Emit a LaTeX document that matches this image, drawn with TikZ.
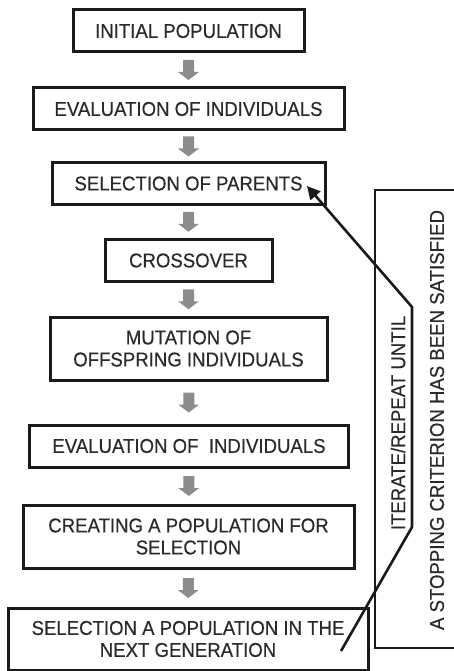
\documentclass[tikz,border=0pt]{standalone}
\usepackage{fontspec}
\setmainfont{Liberation Sans}[FakeStretch=0.93,FakeBold=0.4]
\usetikzlibrary{arrows.meta,calc}
\definecolor{txt}{HTML}{2A2A2A}
\definecolor{edge}{HTML}{1A1A1A}
\definecolor{fat}{HTML}{8C8C8C}
\begin{document}
\begin{tikzpicture}[x=1pt,y=-1pt,
  stepbox/.style={draw=edge,line width=3pt,rectangle,inner sep=0pt,text=txt,
    align=center,font=\fontsize{20}{22}\selectfont},
  loopline/.style={draw=edge,line width=2.6pt,-{Triangle[width=13pt,length=13pt]}},
  sidetext/.style={rotate=90,text=txt,font=\fontsize{20}{22}\selectfont,inner sep=0pt}]
\useasboundingbox (0,0) rectangle (454,671);
\path[clip] (0,0) rectangle (454,671);

\node[stepbox,minimum width=231pt,minimum height=42pt] (b1) at (188.5,31) {INITIAL POPULATION};
\node[stepbox,minimum width=311pt,minimum height=42pt] (b2) at (188.5,109) {EVALUATION OF INDIVIDUALS};
\node[stepbox,minimum width=273pt,minimum height=41pt] (b3) at (188.5,183.5) {SELECTION OF PARENTS};
\node[stepbox,minimum width=167pt,minimum height=42pt] (b4) at (188.5,260.5) {CROSSOVER};
\node[stepbox,minimum width=277pt,minimum height=63pt] (b5) at (188.5,348.5) {MUTATION OF\\OFFSPRING INDIVIDUALS};
\node[stepbox,minimum width=319pt,minimum height=42pt] (b6) at (189,446) {EVALUATION OF\ \ INDIVIDUALS};
\node[stepbox,minimum width=331pt,minimum height=63pt] (b7) at (188.5,536.5) {CREATING A POPULATION FOR\\SELECTION};
\node[stepbox,minimum width=360pt,minimum height=62pt] (b8) at (188,639) {SELECTION A POPULATION IN THE\\NEXT GENERATION};

% gray fat arrows
\foreach \a/\b in {b1/b2,b2/b3,b3/b4,b4/b5,b5/b6,b6/b7,b7/b8}{
  \coordinate (m) at ($(\a.south)!0.5!(\b.north)$);
  \fill[fat] ($(m)+(-5.5,-10)$) -- ($(m)+(5.5,-10)$) -- ($(m)+(5.5,2)$) -- ($(m)+(10.5,2)$)
     -- ($(m)+(0,10)$) -- ($(m)+(-10.5,2)$) -- ($(m)+(-5.5,2)$) -- cycle;
}

% right frame
\coordinate (frtl) at (375,190);
\coordinate (frbl) at (375,648);
\draw[edge,line width=2.4pt] (470,190) -- (frtl) -- (frbl) -- (470,648);
\node[sidetext] (t1) at (398,423) {ITERATE/REPEAT UNTIL};
\node[sidetext] (t2) at (437,420) {A STOPPING CRITERION HAS BEEN SATISFIED};

% loop arrow
\coordinate (ls) at (341,651);
\coordinate (l1) at (412,527);
\coordinate (l2) at (412,307);
\coordinate (le) at (307,186);
\draw[loopline] (ls) -- (l1) -- (l2) -- (le);
\end{tikzpicture}
\end{document}
